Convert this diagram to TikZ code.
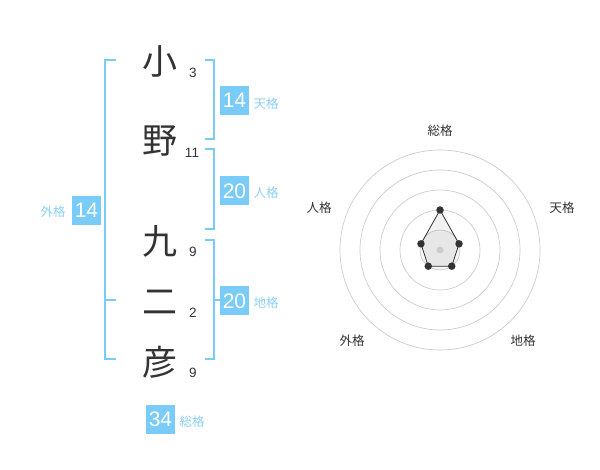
\documentclass[tikz,border=0pt]{standalone}
\usepackage{fontspec}
\setmainfont{Liberation Sans}
\newfontfamily\jp{Noto Sans CJK JP}
\definecolor{bl}{RGB}{122,204,248}
\definecolor{bltext}{RGB}{140,208,246}
\definecolor{dk}{RGB}{51,51,51}
\definecolor{ring}{RGB}{204,204,204}
\tikzset{
  kanji/.style={inner sep=0pt, text=dk, font=\jp\fontsize{35}{35}\selectfont},
  strokes/.style={inner sep=0pt, text=dk, font=\fontsize{13.5}{14}\selectfont},
  valbox/.style={fill=bl, text=white, minimum size=29pt, inner sep=0pt, font=\fontsize{21}{21}\selectfont},
  kaku/.style={inner sep=0pt, text=bltext, font=\jp\fontsize{12.5}{13}\selectfont},
  radlabel/.style={inner sep=0pt, text=dk, font=\jp\fontsize{12.5}{13}\selectfont},
  brk/.style={draw=bl, line width=2pt},
  ringline/.style={draw=ring, line width=0.7pt},
  vdot/.style={circle, fill=dk, minimum size=7.5pt, inner sep=0pt},
}
\begin{document}
\begin{tikzpicture}[x=1pt,y=-1pt]
\useasboundingbox (0,0) rectangle (600,470);
% kanji
\node[kanji] (k1) at (160,61) {小};
\node[kanji] (k2) at (160,141) {野};
\node[kanji] (k3) at (160,241) {九};
\node[kanji] (k4) at (160,302) {二};
\node[kanji] (k5) at (160,362) {彦};
% stroke counts
\node[strokes] (s1) at (193,73) {3};
\node[strokes] (s2) at (192,153) {11};
\node[strokes] (s3) at (193,252) {9};
\node[strokes] (s4) at (193,313) {2};
\node[strokes] (s5) at (193,373) {9};
% left bracket (gaikaku)
\draw[brk] (116,60) -- (105,60) -- (105,359) -- (116,359);
\draw[brk] (105,300) -- (116,300);
% right brackets
\draw[brk] (205,60) -- (214,60) -- (214,139) -- (205,139);
\draw[brk] (205,149) -- (214,149) -- (214,229) -- (205,229);
\draw[brk] (205,240) -- (214,240) -- (214,359) -- (205,359);
\draw[brk] (214,300) -- (220,300);
% value boxes
\node[valbox] (ten) at (234.5,100.5) {14};
\node[kaku] (tenl) at (266,104) {天格};
\node[valbox] (jin) at (234.5,191) {20};
\node[kaku] (jinl) at (266,193) {人格};
\node[valbox] (chi) at (234.5,301) {20};
\node[kaku] (chil) at (266,303) {地格};
\node[valbox] (gai) at (86.5,210.5) {14};
\node[kaku] (gail) at (53,212) {外格};
\node[valbox] (sou) at (160.5,419) {34};
\node[kaku] (soul) at (192,422) {総格};
% radar chart
\begin{scope}[shift={(440,250)}, yscale=-1]
  \fill[gray!9] (0,0) circle[radius=20pt];
  \foreach \r in {20,40,60,80,100} \draw[ringline] (0,0) circle[radius=\r pt];
  \coordinate (pa) at (90:40);
  \coordinate (pb) at (18:20);
  \coordinate (pc) at (-54:20);
  \coordinate (pd) at (-126:20);
  \coordinate (pe) at (162:20);
  \filldraw[fill=black, fill opacity=0.05, draw=dk, line width=0.8pt] (pa) -- (pb) -- (pc) -- (pd) -- (pe) -- cycle;
  \node[circle, fill=ring, minimum size=7pt, inner sep=0pt] (ctr) at (0,0) {};
  \node[vdot] (da) at (pa) {};
  \node[vdot] (db) at (pb) {};
  \node[vdot] (dc) at (pc) {};
  \node[vdot] (dd) at (pd) {};
  \node[vdot] (de) at (pe) {};
\end{scope}
\node[radlabel] (r1) at (440,131) {総格};
\node[radlabel] (r2) at (562,208) {天格};
\node[radlabel] (r3) at (523,341) {地格};
\node[radlabel] (r4) at (352,341) {外格};
\node[radlabel] (r5) at (319,208) {人格};
\end{tikzpicture}
\end{document}
